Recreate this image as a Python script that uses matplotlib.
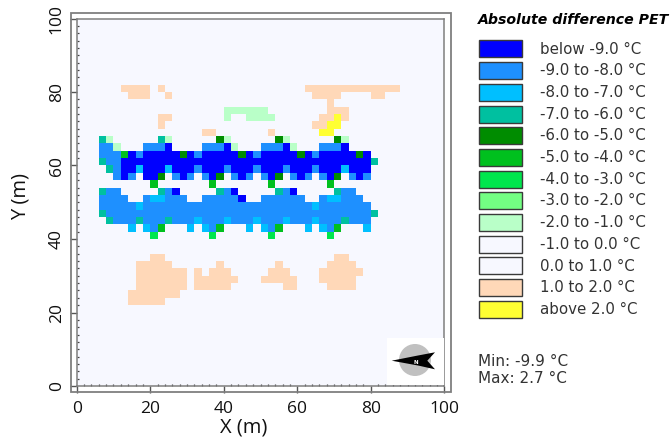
import matplotlib
matplotlib.use('Agg')
import matplotlib.pyplot as plt
import numpy as np
from matplotlib.colors import ListedColormap
from matplotlib.patches import Circle, Polygon, Rectangle
from matplotlib.ticker import MultipleLocator

# legend classes, one letter per class in cell_rows below
class_codes = "abcdefghi.opy"
class_labels = ["below -9.0 °C", "-9.0 to -8.0 °C", "-8.0 to -7.0 °C", "-7.0 to -6.0 °C",
                "-6.0 to -5.0 °C", "-5.0 to -4.0 °C", "-4.0 to -3.0 °C", "-3.0 to -2.0 °C",
                "-2.0 to -1.0 °C", "-1.0 to 0.0 °C", "0.0 to 1.0 °C", "1.0 to 2.0 °C",
                "above 2.0 °C"]
class_colors = ["#0000FF", "#1E90FF", "#00BFFF", "#00C0A0", "#008C00", "#00C01E", "#00E64D",
                "#73FF83", "#B9FFC8", "#F7F8FF", "#F7F8FF", "#FFD8B8", "#FFFF33"]

# grid row number (y = 2 * row) -> classes from x = 0 in 2 m cells, rest of the row is "."
cell_rows = {
    40: "......pppp.p...................ppppppppppppp",
    39: ".......ppp..p...................pppp....pp",
    38: "..................................p",
    37: "....................iiiiii........ppp",
    36: "...........pp.......i..iiii......ppyp",
    35: "...........p....................ppyy",
    34: ".................pp.......p......yy",
    33: "...di......di......ei......ei......ei",
    32: "...bbi...bbba....bbbai...bbbai...bbba",
    31: "...bbbfabaaaaaeabaaaaaeabaaaaaeabaaaaaea",
    30: "...dbb" + "a" * 34 + "d",
    29: "....dbaacaaacaaabaaabaaabaaabaaabaaacaaa",
    28: ".....bab.aae.bab.bae.bab.bae.bab.bae.bab",
    27: "..........f.......f.......f.......f",
    26: "...dbb.....dba.....dba.....dba.....dbb",
    25: "...bbbb..bccbbb..bbbbba..bbbbbb..bccbbb",
    24: "...bbbbbc" + "b" * 23 + "c" + "b" * 7,
    23: "...d" + "b" * 36 + "d",
    22: "....dbbbdbbbdbbbcbbbcbbbcbbbcbbbcbbbdbbb",
    21: ".......c.cbf...c.cbf...c.cbf...c.cbf...c",
    20: "..........g.......g.......g.......g",
    17: "..........pp.......................pp",
    16: "........ppppp......p.......p......pppp",
    15: "........ppppppp.p.ppp.....ppp....pppppp",
    14: "........ppppppp.pppppp...ppppp...ppppp",
    13: "........ppppppp.ppppp.......pp....pppp",
    12: ".......ppppppp",
    11: ".......ppppp",
}
min_max_lines = ["Min: -9.9 °C", "Max: 2.7 °C"]

GRID_SIZE = 50
CELL_M = 2

grid = np.full((GRID_SIZE, GRID_SIZE), class_codes.index("."), dtype=int)
for row, cells in cell_rows.items():
    for col, code in enumerate(cells):
        grid[row, col] = class_codes.index(code)

fig = plt.figure(figsize=(6.71, 4.40), dpi=100, facecolor='white')

# map area in pixels of the 671x440 picture
left, right, top, bottom = 76.7, 444.3, 18.5, 386.0
ax = fig.add_axes([left / 671, (440 - bottom) / 440, (right - left) / 671, (bottom - top) / 440])
edges = np.arange(GRID_SIZE + 1) * CELL_M
ax.pcolormesh(edges, edges, grid, cmap=ListedColormap(class_colors), vmin=-0.5, vmax=12.5)
ax.set_xlim(0, 100)
ax.set_ylim(0, 100)

frame_gray = '#7F7F7F'
for spine in ax.spines.values():
    spine.set_color(frame_gray)
    spine.set_linewidth(1.1)
ax.xaxis.set_major_locator(MultipleLocator(20))
ax.yaxis.set_major_locator(MultipleLocator(20))
ax.xaxis.set_minor_locator(MultipleLocator(2))
ax.yaxis.set_minor_locator(MultipleLocator(2))
ax.tick_params(which='major', direction='out', length=5, width=1, color='#555555',
               labelsize=12.5, labelcolor='#111111', labelfontfamily='Open Sans')
ax.tick_params(axis='x', which='major', pad=5.5)
ax.tick_params(axis='y', which='major', pad=3.5)
ax.tick_params(which='minor', direction='in', length=1.5, width=0.9, color='#444444')
plt.setp(ax.get_yticklabels(), rotation=90, va='center')

# overlay in picture pixels for outer frame, compass and legend
over = fig.add_axes([0, 0, 1, 1], facecolor='none')
over.set_xlim(0, 671)
over.set_ylim(440, 0)
over.axis('off')

over.add_patch(Rectangle((70.7, 13.3), 380, 379, fill=False, edgecolor=frame_gray, linewidth=1.3))
over.text(244, 427, "X (m)", ha='center', va='center', fontsize=14.5, family='Open Sans', color='#111111')
over.text(21, 197, "Y (m)", ha='center', va='center', rotation=90, fontsize=14.5,
          family='Open Sans', color='#111111')

# compass
over.add_patch(Rectangle((387, 338), 56.5, 47.2, facecolor='white', edgecolor='none'))
over.add_patch(Circle((415, 360), 16, facecolor='#C0C0C0', edgecolor='none'))
over.add_patch(Polygon([(391.7, 360.7), (418, 355.5), (435, 352.3), (427.3, 360.7), (435, 369.3),
                        (418, 365.5)], closed=True, facecolor='black', edgecolor='none'))
over.text(415.5, 362.5, "N", ha='center', va='center', fontsize=4, fontweight='bold', color='white')

# legend
text_color = '#333333'
over.text(478, 19.5, "Absolute difference PET", ha='left', va='center', fontsize=10.2,
          fontweight='bold', style='italic', color='black')
for k, (label, color) in enumerate(zip(class_labels, class_colors)):
    y0 = 40.5 + k * 21.67
    over.add_patch(Rectangle((478.5, y0), 43.5, 17, facecolor=color, edgecolor='#3A3A3A', linewidth=1))
    over.text(540, y0 + 8.8, label, ha='left', va='center', fontsize=10.8, color=text_color)
over.text(478, 361.5, min_max_lines[0], ha='left', va='center', fontsize=11, color=text_color)
over.text(478, 378.5, min_max_lines[1], ha='left', va='center', fontsize=11, color=text_color)

plt.savefig('out.png', dpi=100, facecolor='white')
